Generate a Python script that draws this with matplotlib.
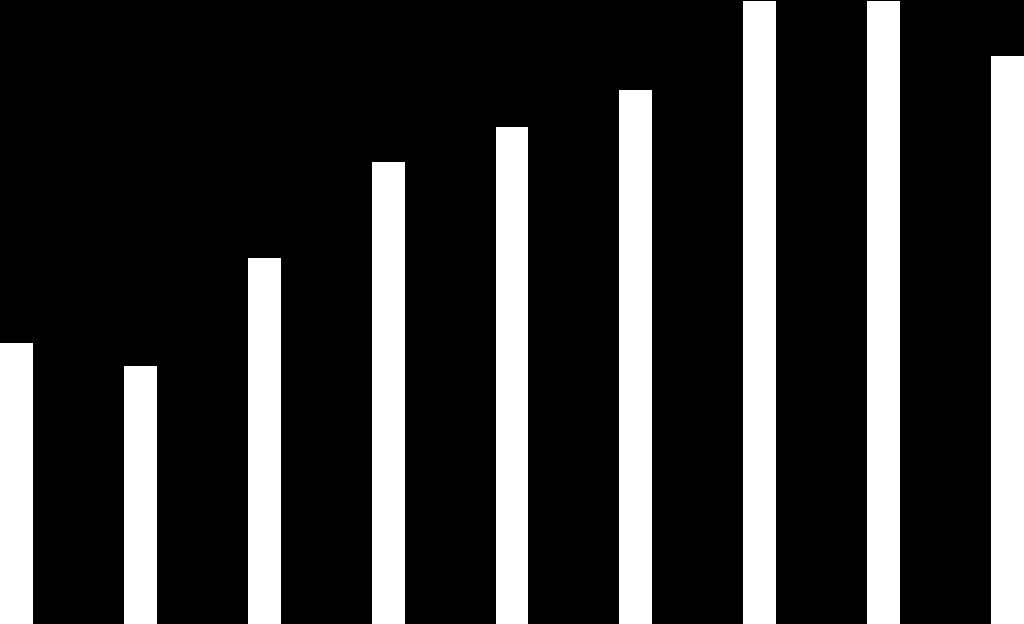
import matplotlib
matplotlib.use("Agg")
import matplotlib.pyplot as plt

# bar heights (pixels above the bottom edge)
categories = list(range(9))
values = [281, 258, 366, 462, 497, 534, 623, 623, 568]

fig = plt.figure(figsize=(10.24, 6.24), dpi=100, facecolor="black")
ax = fig.add_axes([0, 0, 1, 1])
ax.set_facecolor("black")

ax.bar(categories, values, width=0.266, color="white", edgecolor="none")

ax.set_xlim(-0.133, 8.133)
ax.set_ylim(0, 624)
ax.axis("off")

fig.savefig("out.png", dpi=100, facecolor="black")
